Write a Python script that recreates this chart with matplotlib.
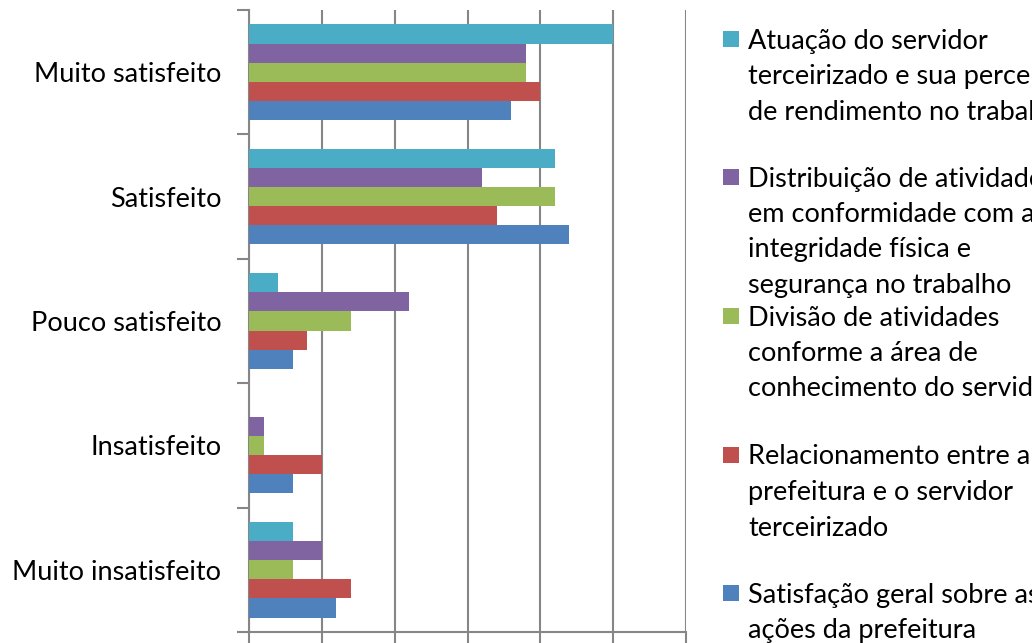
import matplotlib
matplotlib.use("Agg")
import matplotlib.pyplot as plt
from matplotlib.patches import Rectangle
import numpy as np

categories = ["Muito satisfeito", "Satisfeito", "Pouco satisfeito",
              "Insatisfeito", "Muito insatisfeito"]

# Series listed top-of-group first (also legend order)
series_labels = [
    "Atuação do servidor\nterceirizado e sua percepção\nde rendimento no trabalho",
    "Distribuição de atividades\nem conformidade com a\nintegridade física e\nsegurança no trabalho",
    "Divisão de atividades\nconforme a área de\nconhecimento do servidor",
    "Relacionamento entre a\nprefeitura e o servidor\nterceirizado",
    "Satisfação geral sobre as\nações da prefeitura",
]
atuacao      = [25, 21, 2, 0, 3]
distribuicao = [19, 16, 11, 1, 5]
divisao      = [19, 21, 7, 1, 3]
relacionamento = [20, 17, 4, 5, 7]
satisfacao   = [18, 22, 3, 3, 6]
series_values = [atuacao, distribuicao, divisao, relacionamento, satisfacao]
series_colors = ["#4BACC6", "#8064A2", "#9BBB59", "#C0504D", "#4F81BD"]

FONT = "Lato"
FS = 19.5
GRID = "#868686"

fig = plt.figure(figsize=(10.32, 6.43), dpi=100)
ax = fig.add_axes([249 / 1032, 1 - 632 / 643, (686 - 249) / 1032, 622 / 643])

y = np.arange(len(categories))
h = 0.1537
for k, (vals, col) in enumerate(zip(series_values, series_colors)):
    ax.barh(y + (k - 2) * h, vals, height=h, color=col, edgecolor="none", zorder=3)

ax.set_xlim(0, 30)
ax.set_ylim(len(categories) - 0.5, -0.5)
ax.set_xticks(np.arange(0, 31, 5))
ax.set_xticklabels([])
ax.grid(axis="x", color=GRID, linewidth=1.5, zorder=0)
ax.set_yticks(y)
ax.set_yticklabels(categories, fontfamily=FONT, fontsize=FS)
ax.set_yticks(np.arange(-0.5, len(categories)), minor=True)
ax.tick_params(axis="y", which="major", length=0, pad=20)
ax.tick_params(axis="y", which="minor", length=9, width=1.5, color=GRID)
ax.tick_params(axis="x", which="major", length=8, width=1.5, color=GRID, direction="out")
for s in ["top", "right"]:
    ax.spines[s].set_visible(False)
for s in ["left", "bottom"]:
    ax.spines[s].set_color(GRID)
    ax.spines[s].set_linewidth(1.5)

# Legend drawn as patches and text lines in figure pixels
W, H = 1032, 643
entry_top = [41, 179, 318, 457, 595]
line_step = 35.5
for lab, col, y0 in zip(series_labels, series_colors, entry_top):
    fig.patches.append(Rectangle((723 / W, 1 - (y0 + 6) / H), 16 / W, 16 / H,
                                 transform=fig.transFigure, facecolor=col,
                                 edgecolor="none"))
    for i, line in enumerate(lab.split("\n")):
        fig.text(748 / W, 1 - (y0 + i * line_step) / H, line, fontfamily=FONT,
                 fontsize=FS, va="center", ha="left", color="black")

fig.savefig("out.png", dpi=100)
